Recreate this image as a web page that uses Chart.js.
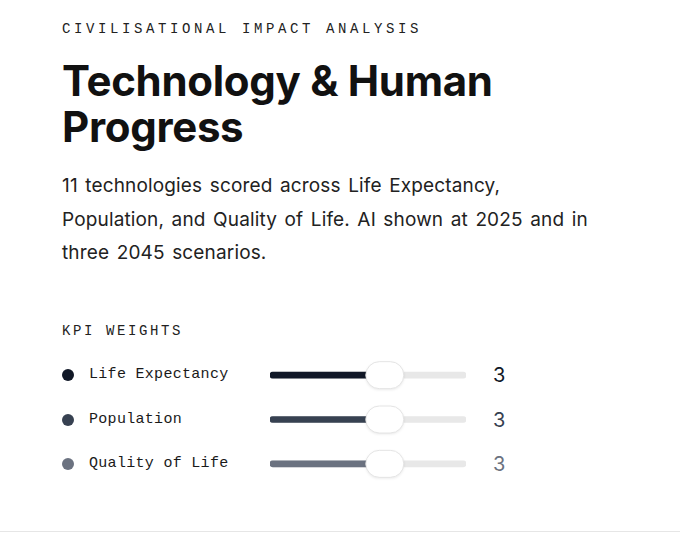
<!DOCTYPE html>
<html><head><meta charset="utf-8">
<script src="https://cdn.jsdelivr.net/npm/chart.js@4.4.1/dist/chart.umd.min.js"></script>
<style>
html,body{margin:0;background:#fff;}
body{width:680px;height:536px;overflow:hidden;position:relative;font-family:Inter,"Noto Sans",sans-serif;color:#111;}
.eyebrow{position:absolute;left:62px;top:21px;font:400 14px/16px "Liberation Mono",monospace;letter-spacing:3.6px;color:#222;white-space:nowrap;}
h1{position:absolute;left:62px;top:58px;margin:0;font:700 42px/46px Inter,sans-serif;letter-spacing:-0.3px;color:#111;}
.sub{position:absolute;left:62px;top:169px;width:600px;margin:0;font:400 19px/33.5px Inter,sans-serif;letter-spacing:0.15px;word-spacing:2px;color:#222;white-space:nowrap;}
.kpi{position:absolute;left:62px;top:323px;font:400 14px/16px "Liberation Mono",monospace;letter-spacing:2.6px;color:#222;}
.row{position:absolute;left:0;height:30px;width:680px;}
.dot{position:absolute;left:62px;top:9px;width:12px;height:12px;border-radius:50%;}
.lab{position:absolute;left:89px;top:0;font:400 15px/30px "Liberation Mono",monospace;letter-spacing:0.3px;color:#1a1a1a;white-space:nowrap;}
.val{position:absolute;left:493px;top:0;font:400 20px/30px Inter,sans-serif;}
#slider{position:absolute;left:270px;top:353px;}
.rule{position:absolute;left:0;width:680px;top:531px;height:1px;background:#e6e6e6;}
</style></head>
<body>
<div class="eyebrow">CIVILISATIONAL IMPACT ANALYSIS</div>
<h1>Technology &amp; Human<br>Progress</h1>
<p class="sub">11 technologies scored across Life Expectancy,<br>Population, and Quality of Life. AI shown at 2025 and in<br>three 2045 scenarios.</p>
<div class="kpi">KPI WEIGHTS</div>
<div id="rows"></div>
<canvas id="slider" width="196" height="133"></canvas>
<div class="rule"></div>
<script>
// ---- data ----
const kpiLabels = ["Life Expectancy", "Population", "Quality of Life"];
const kpiWeights = [3, 3, 3];
const kpiColors = ["#111827", "#374151", "#6b7280"];
const weightMin = 0;
const weightMax = 5;

// ---- layout of HTML rows ----
const rowCenters = [375, 419.5, 463.8];
const rowsEl = document.getElementById('rows');
kpiLabels.forEach((l, i) => {
  const r = document.createElement('div');
  r.className = 'row';
  r.style.top = (rowCenters[i] - 15) + 'px';
  r.innerHTML = '<span class="dot" style="background:' + kpiColors[i] + '"></span>' +
    '<span class="lab">' + l + '</span>' +
    '<span class="val" style="color:' + kpiColors[i] + '">' + kpiWeights[i] + '</span>';
  rowsEl.appendChild(r);
});

// native range thumb travel: track extends half a thumb beyond min/max
const THUMB_W = 38, THUMB_H = 27, TRACK_W = 196;
const unitPx = (TRACK_W - THUMB_W) / (weightMax - weightMin);
const pad = (THUMB_W / 2) / unitPx;
const lo = weightMin - pad, hi = weightMax + pad;

const thumbPlugin = {
  id: 'thumbs',
  afterDatasetsDraw(chart) {
    const ctx = chart.ctx;
    const xs = chart.scales.x, ys = chart.scales.y;
    kpiWeights.forEach((w, i) => {
      const cx = xs.getPixelForValue(w) + 1;
      const cy = ys.getPixelForValue(i);
      const x = cx - THUMB_W / 2, y = cy - THUMB_H / 2;
      ctx.save();
      ctx.shadowColor = 'rgba(0,0,0,0.10)';
      ctx.shadowBlur = 3;
      ctx.shadowOffsetY = 1;
      ctx.beginPath();
      ctx.roundRect(x, y, THUMB_W, THUMB_H, THUMB_H / 2);
      ctx.fillStyle = '#ffffff';
      ctx.fill();
      ctx.shadowColor = 'transparent';
      ctx.lineWidth = 1;
      ctx.strokeStyle = '#e4e4e4';
      ctx.stroke();
      ctx.restore();
    });
  }
};

new Chart(document.getElementById('slider'), {
  type: 'bar',
  data: {
    labels: kpiLabels,
    datasets: [
      {
        data: kpiWeights.map(w => [lo, w]),
        backgroundColor: kpiColors,
        barThickness: 6, borderRadius: 3, borderSkipped: false,
        grouped: false, order: 0
      },
      {
        data: kpiWeights.map(() => [lo, hi]),
        backgroundColor: '#e8e8e8',
        barThickness: 6, borderRadius: 3, borderSkipped: false,
        grouped: false, order: 1
      }
    ]
  },
  options: {
    indexAxis: 'y',
    responsive: false,
    animation: false,
    events: [],
    layout: { padding: 0 },
    plugins: { legend: { display: false }, tooltip: { enabled: false } },
    scales: {
      x: { display: false, min: lo, max: hi },
      y: { display: false, offset: true }
    }
  },
  plugins: [thumbPlugin]
});
</script>
</body></html>
